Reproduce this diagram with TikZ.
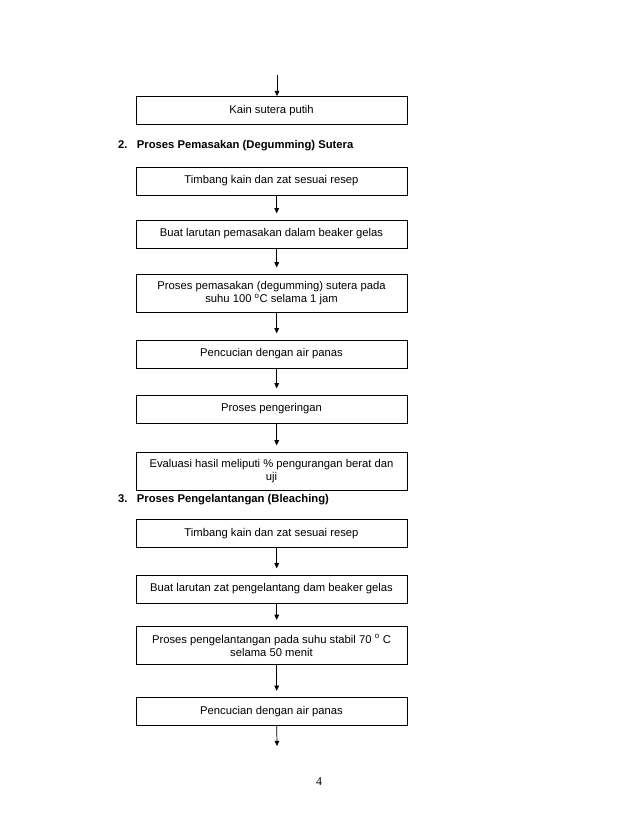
\documentclass[tikz,border=0pt]{standalone}
\usepackage{fontspec}
\setmainfont{Liberation Sans}
\newfontfamily\pagefont{Liberation Serif}
\usetikzlibrary{arrows.meta, positioning}

\begin{document}
\begin{tikzpicture}[
    x=0.96pt, y=-0.96pt,
    stepbox/.style={draw, rectangle, line width=0.7pt, minimum width=260pt, minimum height=27pt, inner sep=0pt, align=center, font=\fontsize{10.8}{12.6}\selectfont},
    tallbox/.style={stepbox, minimum height=36.5pt},
    heading/.style={anchor=west, inner sep=0pt, font=\fontsize{10.8}{12.6}\selectfont\bfseries},
    flow/.style={line width=0.7pt, -{Triangle[length=5pt,width=4.5pt]}},
    gap/.style={shorten >=6pt}
]
\useasboundingbox (0,0) rectangle (638,826);

% Section 1 (end)
\coordinate (top) at (277,75);
\node[stepbox] (kain) at (271.5,110.5) {Kain sutera putih};
\draw[flow] (top) -- (top |- kain.north);

% Section 2: Degumming
\node[heading] (head2) at (118,146) {2.\hspace{9pt}Proses Pemasakan (Degumming) Sutera};
\node[stepbox] (timbangA) at (271.5,181) {Timbang kain dan zat sesuai resep};
\node[stepbox] (buatA) at (271.5,234) {Buat larutan pemasakan dalam beaker gelas};
\node[tallbox] (masak) at (271.5,293) {Proses pemasakan (degumming) sutera pada\\suhu 100 \textsuperscript{o}C selama 1 jam};
\node[stepbox] (cuciA) at (271.5,354) {Pencucian dengan air panas};
\node[stepbox] (kering) at (271.5,409) {Proses pengeringan};
\node[tallbox] (evaluasi) at (271.5,471) {Evaluasi hasil meliputi \% pengurangan berat dan\\uji};

\draw[flow, gap] ([xshift=5pt]timbangA.south) -- ([xshift=5pt]buatA.north);
\draw[flow, gap] ([xshift=5pt]buatA.south) -- ([xshift=5pt]masak.north);
\draw[flow, gap] ([xshift=5pt]masak.south) -- ([xshift=5pt]cuciA.north);
\draw[flow, gap] ([xshift=5pt]cuciA.south) -- ([xshift=5pt]kering.north);
\draw[flow, gap] ([xshift=5pt]kering.south) -- ([xshift=5pt]evaluasi.north);

% Section 3: Bleaching
\node[heading] (head3) at (118,500) {3.\hspace{9pt}Proses Pengelantangan (Bleaching)};
\node[stepbox] (timbangB) at (271.5,533.5) {Timbang kain dan zat sesuai resep};
\node[stepbox] (buatB) at (271.5,589) {Buat larutan zat pengelantang dam beaker gelas};
\node[tallbox] (lantang) at (271.5,645.5) {Proses pengelantangan pada suhu stabil 70 \textsuperscript{o} C\\selama 50 menit};
\node[stepbox] (cuciB) at (271.5,711.5) {Pencucian dengan air panas};
\coordinate (bottom) at (277,746);

\draw[flow, gap] ([xshift=5pt]timbangB.south) -- ([xshift=5pt]buatB.north);
\draw[flow, gap] ([xshift=5pt]buatB.south) -- ([xshift=5pt]lantang.north);
\draw[flow, gap] ([xshift=5pt]lantang.south) -- ([xshift=5pt]cuciB.north);
\draw[flow] ([xshift=5pt]cuciB.south) -- (bottom);

% page number
\node[font=\pagefont\fontsize{11.5}{13}\selectfont] (pagenum) at (319,782) {4};

\end{tikzpicture}
\end{document}
